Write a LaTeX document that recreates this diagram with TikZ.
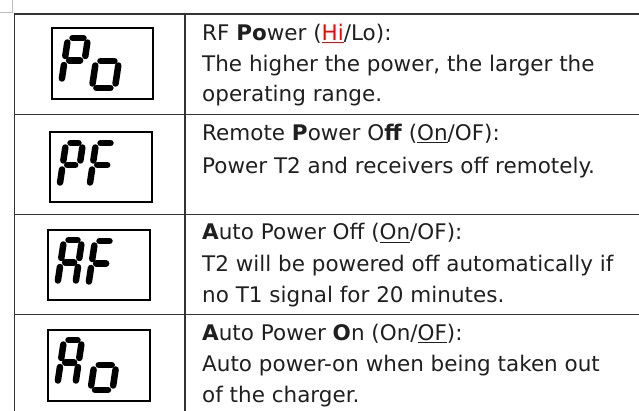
\documentclass[tikz,border=0pt]{standalone}
\usepackage{fontspec}
\setmainfont{DejaVu Sans}
\begin{document}
\begin{tikzpicture}[x=1pt,y=-1pt,
  tbl/.style={draw=black!80,line width=1.6pt},
  disp/.style={draw=black,line width=1.2pt},
  segline/.style={line width=6.5pt,line cap=round,black},
  txt/.style={anchor=base west,inner sep=0pt,text=black!88,font=\fontsize{21.5}{24}\selectfont},
  corner/.style={draw=black!25,line width=1pt}]
\useasboundingbox (0,0) rectangle (639,411);
\newcommand\segchar[5]{%
  \begin{scope}[shift={(#1,#2)},xslant=0.15]
    \def\W{#3}\def\H{#4}\def\G{4.5}
    \foreach \s in {#5}{%
      \if a\s \draw[segline] ({\G},0) -- ({\W-\G},0);\fi
      \if b\s \draw[segline] ({\W},{\G}) -- ({\W},{\H/2-\G});\fi
      \if c\s \draw[segline] ({\W},{\H/2+\G}) -- ({\W},{\H-\G});\fi
      \if d\s \draw[segline] ({\G},{\H}) -- ({\W-\G},{\H});\fi
      \if e\s \draw[segline] (0,{\H/2+\G}) -- (0,{\H-\G});\fi
      \if f\s \draw[segline] (0,{\G}) -- (0,{\H/2-\G});\fi
      \if g\s \draw[segline] ({\G},{\H/2}) -- ({\W-\G},{\H/2});\fi
    }
  \end{scope}}
% corner mark
\draw[corner] (0,12.5) -- (12.5,12.5) -- (12.5,0);
% table
\draw[tbl] (14.5,13.2) -- (14.5,411);
\draw[tbl] (185,13.2) -- (185,411);
\foreach \y in {14,114.5,214.5,314.5} \draw[tbl] (13.7,\y) -- (639,\y);
% displays
\draw[disp] (52,28) rectangle (153,99);
\draw[disp] (50,132) rectangle (152,202);
\draw[disp] (48,230) rectangle (150,300);
\draw[disp] (48,330) rectangle (150,401);
\segchar{68}{38}{20}{45}{a,b,f,g,e}
\segchar{100}{34}{23}{54}{g,c,d,e}
\segchar{66}{143}{17}{44}{a,b,f,g,e}
\segchar{96}{143}{19}{44}{a,f,g,e}
\segchar{64}{240}{18}{45}{a,b,c,e,f,g}
\segchar{95}{241}{19}{45}{a,f,g,e}
\segchar{64}{340}{18}{45}{a,b,c,e,f,g}
\segchar{98}{340}{22}{50}{g,c,d,e}
% texts
\node[txt] (r1a) at (202,40.5) {RF \textbf{Po}wer (\textcolor{red}{\underline{Hi}}/Lo):};
\node[txt] (r1b) at (202,71.5) {The higher the power, the larger the};
\node[txt] (r1c) at (202,102) {operating range.};
\node[txt] (r2a) at (202,140.5) {Remote \textbf{P}ower O\textbf{ff} (\underline{On}/OF):};
\node[txt] (r2b) at (202,174) {Power T2 and receivers off remotely.};
\node[txt] (r3a) at (202,240) {\textbf{A}uto Power Off (\underline{On}/OF):};
\node[txt] (r3b) at (202,271.5) {T2 will be powered off automatically if};
\node[txt] (r3c) at (202,302) {no T1 signal for 20 minutes.};
\node[txt] (r4a) at (202,340) {\textbf{A}uto Power \textbf{O}n (On/\underline{OF}):};
\node[txt] (r4b) at (202,371.5) {Auto power-on when being taken out};
\node[txt] (r4c) at (202,402) {of the charger.};
\end{tikzpicture}
\end{document}
